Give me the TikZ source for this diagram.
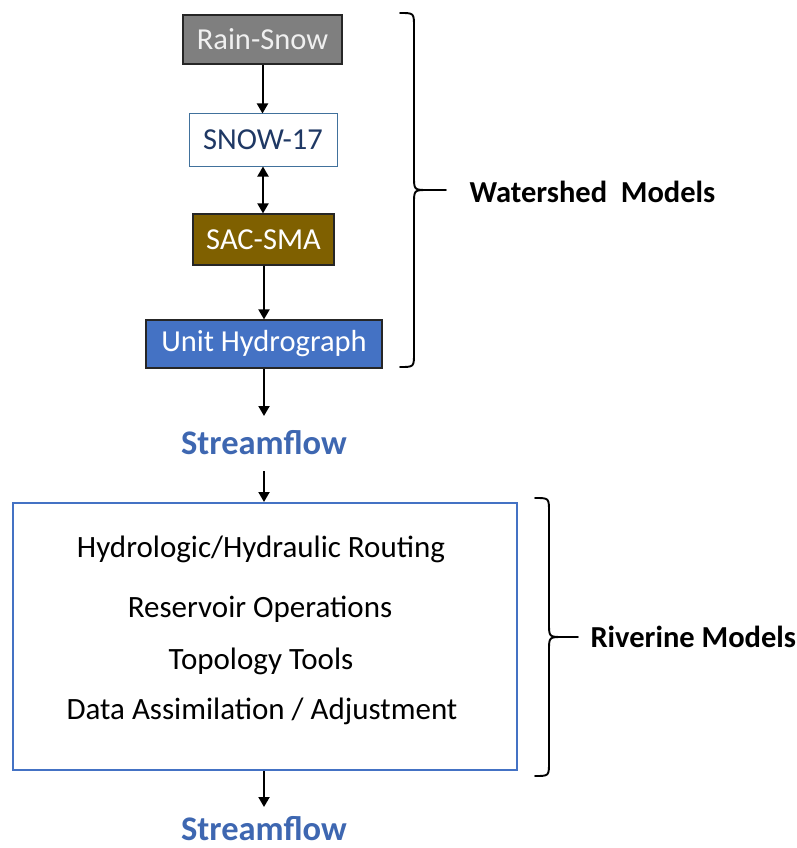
\documentclass[tikz,border=0pt]{standalone}
\usepackage{fontspec}
\setmainfont{Carlito}
\usetikzlibrary{arrows.meta}
\definecolor{rsgray}{HTML}{7F7F7F}
\definecolor{sacbrown}{HTML}{7F6000}
\definecolor{uhblue}{HTML}{4472C4}
\definecolor{navy}{HTML}{1F3864}
\definecolor{steel}{HTML}{41719C}
\definecolor{flowblue}{HTML}{3E67B1}
\tikzset{
  modelbox/.style={draw=black!85, line width=1.2pt, inner sep=0pt, font=\fontsize{30.5}{33}\selectfont},
  arr/.style={line width=2pt, -{Triangle[length=10pt,width=11pt]}},
  darr/.style={line width=2pt, {Triangle[length=10pt,width=11pt]}-{Triangle[length=10pt,width=11pt]}},
  flowtext/.style={font=\fontsize{34.5}{37}\selectfont\bfseries, text=flowblue, inner sep=0pt},
  tasktext/.style={font=\fontsize{31}{34}\selectfont},
  grouptext/.style={font=\fontsize{30.5}{33}\selectfont\bfseries, anchor=west},
  bracepen/.style={line width=1.9pt, line cap=round}
}
\begin{document}
\begin{tikzpicture}[x=1pt,y=-1pt]
  \useasboundingbox (0,0) rectangle (797,848);

  % watershed model chain
  \node[modelbox, fill=rsgray, text=white!94!black, minimum width=159pt, minimum height=49pt] (rs) at (262.5,39.5) {Rain-Snow};
  \node[modelbox, draw=steel, line width=1pt, fill=white, text=navy, minimum width=148pt, minimum height=52pt] (snow) at (263,140) {SNOW-17};
  \node[modelbox, fill=sacbrown, text=white, minimum width=141pt, minimum height=51pt] (sac) at (263.5,239.5) {SAC-SMA};
  \node[modelbox, fill=uhblue, text=white, minimum width=236pt, minimum height=48pt] (uh) at (264,344) {Unit Hydrograph};
  \node[flowtext] (flow1) at (264,443) {Streamflow};

  % riverine model block
  \node[draw=uhblue, line width=2pt, minimum width=504pt, minimum height=267pt, inner sep=0pt] (river) at (265,636.5) {};
  \node[tasktext] (route) at (261,549) {Hydrologic/Hydraulic Routing};
  \node[tasktext] (resv) at (260,609) {Reservoir Operations};
  \node[tasktext] (topo) at (261,661) {Topology Tools};
  \node[tasktext] (da) at (262,711) {Data Assimilation / Adjustment};
  \node[flowtext] (flow2) at (264,829) {Streamflow};

  % arrow ends next to the streamflow labels
  \coordinate (f1in) at (264,416);
  \coordinate (f1out) at (264,471);
  \coordinate (f2in) at (264,807);

  % flow arrows
  \draw[arr] (rs.south) -- (rs.south |- snow.north);
  \draw[darr] (snow.south) -- (snow.south |- sac.north);
  \draw[arr] (sac.south -| uh.center) -- (uh.north);
  \draw[arr] (uh.south) -- (f1in);
  \draw[arr] (f1out) -- (f1out |- river.north);
  \draw[arr] (river.south -| f2in) -- (f2in);

  % group braces
  \draw[bracepen] (400,13) .. controls (414,13) .. (414,27) -- (414,176)
        .. controls (414,190) .. (428,190) -- (446,190);
  \draw[bracepen] (428,190) .. controls (414,190) .. (414,204) -- (414,353)
        .. controls (414,367) .. (400,367);
  \node[grouptext] (wsm) at (466,192) {Watershed\ \ Models};

  \draw[bracepen] (535,498) .. controls (549,498) .. (549,512) -- (549,623)
        .. controls (549,637) .. (563,637) -- (578,637);
  \draw[bracepen] (563,637) .. controls (549,637) .. (549,651) -- (549,762)
        .. controls (549,776) .. (535,776);
  \node[grouptext] (rvm) at (587,637) {Riverine Models};
\end{tikzpicture}
\end{document}
